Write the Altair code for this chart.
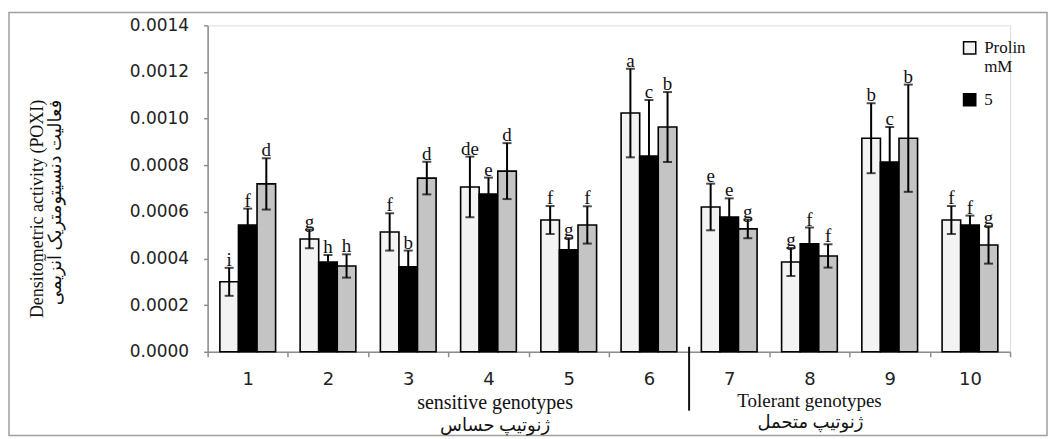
import altair as alt
import pandas as pd

genotypes = [str(i) for i in range(1, 11)]
levels = ["0", "5", "10"]

mean_0 = [0.00030, 0.000484, 0.000514, 0.000707, 0.000565, 0.001024, 0.000621, 0.000385, 0.000916, 0.000565]
err_0 = [0.00006, 0.00004, 0.00008, 0.00013, 0.00006, 0.00019, 0.00010, 0.00006, 0.00015, 0.00006]
let_0 = ["i", "g", "f", "de", "f", "a", "e", "g", "b", "f"]

mean_5 = [0.000544, 0.000385, 0.000364, 0.000677, 0.000437, 0.00084, 0.000578, 0.000463, 0.000814, 0.000544]
err_5 = [0.00007, 0.00003, 0.00007, 0.00007, 0.00005, 0.00024, 0.00008, 0.00007, 0.00015, 0.00004]
let_5 = ["f", "h", "b", "e", "g", "c", "e", "f", "c", "f"]

mean_10 = [0.00072, 0.000368, 0.000745, 0.000775, 0.000544, 0.000964, 0.000527, 0.000411, 0.000916, 0.000458]
err_10 = [0.00011, 0.00005, 0.00007, 0.00012, 0.00008, 0.00015, 0.00004, 0.00005, 0.00023, 0.00008]
let_10 = ["d", "h", "d", "d", "f", "b", "g", "f", "b", "g"]

y_ticks = [0.0, 0.0002, 0.0004, 0.0006, 0.0008, 0.0010, 0.0012, 0.0014]
y_title = ["Densitometric  activity (POXI)", "فعالیت دنسیتومتریک آنزیمی"]
colors = ["#f3f3f3", "#000000", "#c4c4c4"]

rows = []
for lvl, means, errs, lets in zip(levels, [mean_0, mean_5, mean_10],
                                  [err_0, err_5, err_10], [let_0, let_5, let_10]):
    for g, m, e, l in zip(genotypes, means, errs, lets):
        rows.append(dict(genotype=g, level=lvl, mean=m, lo=m - e, hi=m + e, letter=l))
df = pd.DataFrame(rows)

W, H = 804, 327
SERIF = "Liberation Serif, DejaVu Sans"

x_enc = alt.X("genotype:N", sort=genotypes,
              scale=alt.Scale(paddingInner=0, paddingOuter=0),
              axis=alt.Axis(title=None, labelAngle=0, tickBand="extent",
                            labelFont="DejaVu Sans", labelFontSize=18, labelColor="#222",
                            labelPadding=14, labelBaseline="top",
                            tickSize=5, tickColor="#8c8c8c", tickWidth=1.5,
                            domainColor="#8c8c8c", domainWidth=1.5))
xo_enc = alt.XOffset("level:N", sort=levels,
                     scale=alt.Scale(paddingInner=0, paddingOuter=0.66))
y_scale = alt.Scale(domain=[0, 0.0014], nice=False)
y_axis = alt.Axis(values=y_ticks, format=".4f", title=y_title,
                  labelFont="DejaVu Sans", labelFontSize=17, labelColor="#222",
                  labelPadding=15, tickSize=4, tickColor="#8c8c8c", tickWidth=1.5,
                  domainColor="#8c8c8c", domainWidth=1.5, grid=False,
                  titleFont=SERIF, titleFontSize=18, titleFontWeight="normal",
                  titleColor="#111", titleLineHeight=18, titleAngle=-90,
                  titleAlign="right", titleBaseline="bottom",
                  titleX=-161, titleY=74)

base = alt.Chart(df)

bars = base.mark_bar(stroke="black", strokeWidth=1.6).encode(
    x=x_enc, xOffset=xo_enc,
    y=alt.Y("mean:Q", scale=y_scale, axis=y_axis),
    fill=alt.Fill("level:N", scale=alt.Scale(domain=levels, range=colors),
                  legend=alt.Legend(values=["0", "5"], title=None, orient="none",
                                    legendX=755, legendY=14, padding=0,
                                    symbolType="square", symbolSize=150,
                                    symbolStrokeColor="black", symbolStrokeWidth=1.5,
                                    labelFont=SERIF, labelFontSize=17, labelColor="#111",
                                    labelLimit=0, rowPadding=15, labelOffset=6,
                                    labelExpr="datum.value == '0' ? ['Prolin', 'mM'] : datum.label")),
)

rules = base.mark_rule(color="black", strokeWidth=2).encode(
    x=x_enc, xOffset=xo_enc,
    y=alt.Y("lo:Q", scale=y_scale, axis=y_axis), y2="hi:Q")

cap_hi = base.mark_tick(color="black", thickness=2, size=9).encode(
    x=x_enc, xOffset=xo_enc, y=alt.Y("hi:Q", scale=y_scale, axis=y_axis))
cap_lo = base.mark_tick(color="black", thickness=2, size=9).encode(
    x=x_enc, xOffset=xo_enc, y=alt.Y("lo:Q", scale=y_scale, axis=y_axis))

letters = base.mark_text(baseline="alphabetic", dy=-2, font=SERIF, fontSize=19,
                         color="#111").encode(
    x=x_enc, xOffset=xo_enc, y=alt.Y("hi:Q", scale=y_scale, axis=y_axis),
    text="letter:N")

divider = alt.Chart(pd.DataFrame({"genotype": ["7"]})).mark_rule(
    color="#111", strokeWidth=2).encode(
    x=alt.X("genotype:N", sort=genotypes, bandPosition=0),
    y=alt.value(322), y2=alt.value(386))

dummy = pd.DataFrame({"a": [0]})


def note(txt, xp, yp, size):
    return alt.Chart(dummy).mark_text(font=SERIF, fontSize=size, color="#111",
                                      baseline="middle", align="center").encode(
        x=alt.value(xp), y=alt.value(yp), text=alt.value(txt))


notes = [
    note("sensitive  genotypes", 288, 378, 20),
    note("ژنوتیپ حساس", 288, 401, 18),
    note("Tolerant genotypes", 603, 376, 19),
    note("ژنوتیپ متحمل", 604, 398, 18),
]

frame = alt.Chart(dummy).mark_rect(fillOpacity=0, stroke="#a0a0a0", strokeWidth=1.5).encode(
    x=alt.value(-199), x2=alt.value(841), y=alt.value(-13), y2=alt.value(411))

chart = alt.layer(frame, bars, rules, cap_hi, cap_lo, letters, divider, *notes).properties(
    width=W, height=H,
    autosize=alt.AutoSizeParams(type="none"),
    padding={"left": 200, "top": 17, "right": 40, "bottom": 90},
).configure_view(stroke=None).configure(background="white")

chart.save("out.html", embed_options={"renderer": "svg", "actions": False})
